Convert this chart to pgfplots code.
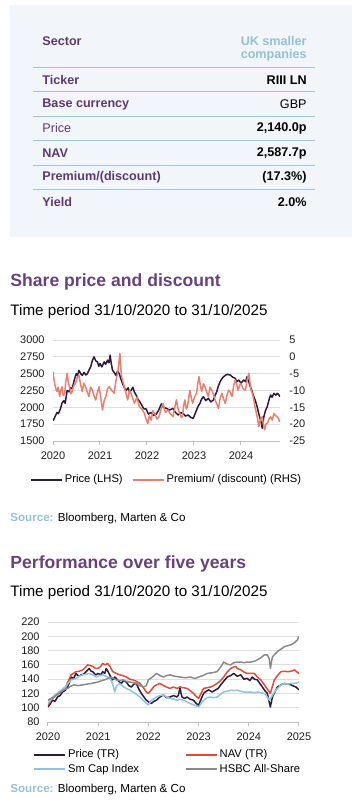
\documentclass[border=0pt]{standalone}
\usepackage{pgfplots}
\pgfplotsset{compat=1.18}
\usepackage{fontspec}
\setmainfont{Liberation Sans}
\definecolor{bgbox}{RGB}{242,246,250}
\definecolor{rule}{RGB}{165,195,212}
\definecolor{lbl}{RGB}{92,58,110}
\definecolor{ttl}{RGB}{104,66,122}
\definecolor{lblue}{RGB}{150,192,212}
\definecolor{cprice}{RGB}{45,26,60}
\definecolor{cprem}{RGB}{232,128,112}
\definecolor{cnav}{RGB}{224,76,58}
\definecolor{csm}{RGB}{140,196,226}
\definecolor{chsbc}{RGB}{138,138,138}
\definecolor{gridc}{RGB}{222,222,222}
\definecolor{axc}{RGB}{190,190,190}
\definecolor{tickc}{RGB}{30,30,30}
\newcommand{\tabfont}{\fontsize{6.3}{7.5}\selectfont}
\newcommand{\tickfont}{\fontsize{5.5}{6.5}\selectfont}
\pgfplotsset{
  base/.style={
    scale only axis, anchor=south west,
    /pgf/number format/assume math mode=true,
    /pgf/number format/1000 sep={},
    tick label style={font=\tickfont, text=tickc},
    tick align=outside, major tick length=2pt,
    xtick style={axc, line width=0.5pt},
    ytick style={draw=none},
    every axis plot/.append style={line width=0.75pt, line join=round},
    legend cell align=left,
    legend image code/.code={\draw[#1, line width=1pt] (0pt,0pt) -- (15.5pt,0pt);},
  },
}
\begin{document}
\begin{tikzpicture}
\begin{scope}[x=0.5pt,y=-0.5pt]
\path[use as bounding box] (0,0) rectangle (352,802);
\coordinate (c1) at (53,441);
\coordinate (c2) at (48,722);
% ---------- table box ----------
\fill[bgbox] (10,5) rectangle (352,237);
\foreach \yy in {68,92,117,141,166,190}{\draw[rule, line width=0.5pt] (33,\yy) -- (315,\yy);}
\begin{scope}[every node/.style={inner sep=0pt, font=\tabfont}]
\node[anchor=west, text=lbl] at (42,41) {\bfseries Sector};
\node[anchor=east, text=lblue] at (307,41) {\bfseries UK smaller};
\node[anchor=east, text=lblue] at (307,55) {\bfseries companies};
\node[anchor=west, text=lbl] at (42,80) {\bfseries Ticker};
\node[anchor=east] at (307,80) {\bfseries RIII LN};
\node[anchor=west, text=lbl] at (42,104) {\bfseries Base currency};
\node[anchor=east] at (307,104) {GBP};
\node[anchor=west, text=lbl] at (42,128) {Price};
\node[anchor=east] at (307,128) {\bfseries 2,140.0p};
\node[anchor=west, text=lbl] at (42,153) {\bfseries NAV};
\node[anchor=east] at (307,153) {\bfseries 2,587.7p};
\node[anchor=west, text=lbl] at (42,177) {\bfseries Premium/(discount)};
\node[anchor=east] at (307,177) {\bfseries (17.3\%)};
\node[anchor=west, text=lbl] at (42,202) {\bfseries Yield};
\node[anchor=east] at (307,202) {\bfseries 2.0\%};
% titles
\node[anchor=west, text=ttl, font=\fontsize{8.8}{10}\selectfont\bfseries] at (10,282) {Share price and discount};
\node[anchor=west, font=\fontsize{7.6}{9}\selectfont] at (10,312) {Time period 31/10/2020 to 31/10/2025};
\node[anchor=west, font=\fontsize{5.8}{7}\selectfont] at (10,518) {\textcolor{lblue}{\bfseries Source:} Bloomberg, Marten \& Co};
\node[anchor=west, text=ttl, font=\fontsize{8.8}{10}\selectfont\bfseries] at (10,564) {Performance over five years};
\node[anchor=west, font=\fontsize{7.6}{9}\selectfont] at (10,593) {Time period 31/10/2020 to 31/10/2025};
\node[anchor=west, font=\fontsize{5.8}{7}\selectfont] at (10,789) {\textcolor{lblue}{\bfseries Source:} Bloomberg, Marten \& Co};
\end{scope}
\end{scope}
% ---------- chart 1: left axis ----------
\begin{axis}[base, at={(c1)}, width=113.5pt, height=50.5pt,
  xmin=2020, xmax=2024.83, ymin=1500, ymax=3000,
  xtick={2020,2021,2022,2023,2024},
  ytick={1500,1750,...,3000},
  axis x line*=bottom, axis y line*=left,
  x axis line style={axc, line width=0.5pt, -},
  y axis line style={draw=none},
  ymajorgrids, grid style={gridc, line width=0.5pt},
  yticklabel style={inner sep=0pt, xshift=-2pt},
  xticklabel style={inner sep=0pt, yshift=-3pt},
]
\addplot[cprice] coordinates {
(2020.000,1800) (2020.030,1840) (2020.055,1880) (2020.086,1925) (2020.115,1905) (2020.157,1975) (2020.190,2060) (2020.229,2100) (2020.260,2060) (2020.301,2250) (2020.340,2230) (2020.375,2290) (2020.408,2275) (2020.450,2400) (2020.494,2500) (2020.520,2470) (2020.551,2550) (2020.590,2500) (2020.623,2475) (2020.660,2520) (2020.700,2480) (2020.730,2500) (2020.770,2560) (2020.801,2600) (2020.840,2700) (2020.873,2750) (2020.910,2690) (2020.945,2675) (2020.975,2610) (2021.002,2650) (2021.040,2600) (2021.088,2675) (2021.120,2640) (2021.159,2700) (2021.190,2660) (2021.216,2775) (2021.240,2650) (2021.267,2550) (2021.300,2520) (2021.338,2475) (2021.375,2540) (2021.410,2500) (2021.445,2420) (2021.481,2350) (2021.515,2300) (2021.553,2250) (2021.600,2290) (2021.630,2220) (2021.660,2250) (2021.700,2300) (2021.732,2225) (2021.770,2180) (2021.803,2125) (2021.840,2090) (2021.875,2050) (2021.930,1980) (2021.982,1975) (2022.030,1900) (2022.089,1925) (2022.140,1880) (2022.197,1900) (2022.250,1960) (2022.304,2050) (2022.350,2000) (2022.411,1985) (2022.480,1960) (2022.555,1985) (2022.600,1930) (2022.662,1886) (2022.720,1920) (2022.769,1910) (2022.820,1870) (2022.877,1886) (2022.930,1850) (2022.984,1836) (2023.020,1900) (2023.055,1960) (2023.090,2020) (2023.127,2060) (2023.160,2120) (2023.199,2158) (2023.250,2100) (2023.306,2134) (2023.360,2080) (2023.413,2109) (2023.450,2180) (2023.485,2233) (2023.520,2320) (2023.556,2381) (2023.590,2420) (2023.628,2455) (2023.700,2490) (2023.771,2480) (2023.820,2450) (2023.878,2430) (2023.910,2380) (2023.950,2406) (2024.000,2360) (2024.057,2406) (2024.100,2380) (2024.129,2455) (2024.165,2380) (2024.200,2307) (2024.240,2230) (2024.272,2158) (2024.310,2090) (2024.343,2010) (2024.380,1900) (2024.415,1812) (2024.440,1750) (2024.451,1688) (2024.470,1780) (2024.487,1861) (2024.520,1950) (2024.558,2010) (2024.600,2120) (2024.630,2183) (2024.660,2150) (2024.701,2208) (2024.740,2180) (2024.773,2208) (2024.800,2190) (2024.830,2158)
};
\end{axis}
% ---------- chart 1: right axis ----------
\begin{axis}[base, at={(c1)}, width=113.5pt, height=50.5pt,
  xmin=2020, xmax=2024.83, ymin=-25, ymax=5,
  ytick={-25,-20,...,5},
  axis x line=none, axis y line*=right,
  y axis line style={draw=none},
  yticklabel style={inner sep=0pt, xshift=2.5pt},
  legend columns=2,
  legend style={at={(0.5,-0.39)}, anchor=center, draw=none, fill=none,
    font=\fontsize{5.6}{6.5}\selectfont, inner sep=0pt,
    /tikz/every even column/.append style={column sep=3.5pt},
    nodes={inner sep=1pt}},
]
\addlegendimage{cprice}
\addlegendentry{Price (LHS)}
\addplot[cprem] coordinates {
(2020.000,-4.4) (2020.018,-6.5) (2020.036,-7.9) (2020.060,-9.5) (2020.086,-10.3) (2020.110,-9.0) (2020.143,-11.8) (2020.165,-10.0) (2020.193,-8.9) (2020.220,-11.5) (2020.250,-10.8) (2020.275,-7.0) (2020.301,-4.9) (2020.325,-7.5) (2020.351,-8.9) (2020.380,-11.0) (2020.408,-10.3) (2020.440,-8.5) (2020.479,-7.9) (2020.515,-6.2) (2020.551,-5.4) (2020.585,-8.0) (2020.623,-10.3) (2020.655,-7.8) (2020.694,-8.9) (2020.730,-10.5) (2020.766,-11.8) (2020.800,-9.0) (2020.837,-9.9) (2020.870,-11.5) (2020.909,-12.8) (2020.945,-10.5) (2020.980,-8.9) (2021.015,-12.0) (2021.052,-15.8) (2021.090,-13.0) (2021.123,-11.8) (2021.160,-9.5) (2021.195,-8.9) (2021.250,-10.0) (2021.302,-10.8) (2021.340,-7.0) (2021.374,-4.9) (2021.400,-2.0) (2021.424,1.0) (2021.440,-3.0) (2021.460,-5.9) (2021.490,-7.5) (2021.517,-8.9) (2021.555,-11.0) (2021.589,-12.8) (2021.625,-10.0) (2021.660,-10.8) (2021.700,-12.5) (2021.732,-13.8) (2021.785,-12.0) (2021.839,-14.8) (2021.890,-15.5) (2021.946,-16.8) (2021.980,-18.5) (2022.018,-19.8) (2022.050,-17.5) (2022.089,-18.8) (2022.125,-16.0) (2022.161,-16.8) (2022.210,-18.5) (2022.254,-17.8) (2022.300,-15.5) (2022.340,-13.8) (2022.390,-16.5) (2022.447,-15.8) (2022.500,-17.0) (2022.555,-17.8) (2022.590,-15.0) (2022.626,-12.8) (2022.660,-15.5) (2022.698,-16.8) (2022.730,-18.0) (2022.755,-17.8) (2022.780,-14.5) (2022.805,-12.8) (2022.835,-15.5) (2022.862,-14.8) (2022.890,-12.0) (2022.912,-9.9) (2022.940,-12.0) (2022.970,-13.8) (2023.010,-12.0) (2023.055,-10.8) (2023.080,-8.0) (2023.106,-5.9) (2023.135,-8.5) (2023.163,-10.3) (2023.200,-8.0) (2023.234,-8.9) (2023.270,-10.5) (2023.306,-11.8) (2023.340,-9.0) (2023.377,-9.9) (2023.410,-11.0) (2023.449,-12.8) (2023.485,-14.0) (2023.521,-15.3) (2023.555,-12.5) (2023.592,-10.8) (2023.630,-12.5) (2023.664,-13.8) (2023.700,-11.5) (2023.735,-9.9) (2023.770,-10.5) (2023.807,-11.8) (2023.845,-8.5) (2023.878,-6.9) (2023.905,-8.0) (2023.936,-9.9) (2023.970,-8.5) (2024.000,-7.9) (2024.045,-9.5) (2024.093,-9.9) (2024.130,-7.0) (2024.165,-4.9) (2024.190,-7.5) (2024.215,-9.9) (2024.245,-11.0) (2024.272,-12.8) (2024.300,-15.0) (2024.329,-16.8) (2024.355,-18.5) (2024.379,-20.7) (2024.415,-18.5) (2024.451,-17.8) (2024.475,-20.0) (2024.501,-21.7) (2024.530,-20.0) (2024.558,-19.8) (2024.595,-18.5) (2024.630,-17.8) (2024.665,-18.8) (2024.701,-16.8) (2024.735,-17.5) (2024.773,-17.8) (2024.800,-18.5) (2024.830,-19.3)
};
\addlegendentry{Premium/ (discount) (RHS)}
\end{axis}
% ---------- chart 2 ----------
\begin{axis}[base, at={(c2)}, width=125.5pt, height=50pt,
  xmin=2020, xmax=2025, ymin=80, ymax=220,
  xtick={2020,2021,2022,2023,2024,2025},
  ytick={80,100,...,220},
  axis x line*=bottom, axis y line*=left,
  x axis line style={axc, line width=0.5pt, -},
  y axis line style={draw=none},
  ymajorgrids, grid style={gridc, line width=0.5pt},
  yticklabel style={inner sep=0pt, xshift=-2pt},
  xticklabel style={inner sep=0pt, yshift=-3pt},
  legend columns=2,
  legend style={at={(-0.06,-0.25)}, anchor=north west, draw=none, fill=none,
    font=\fontsize{5.6}{6.5}\selectfont, inner sep=0pt,
    /tikz/column 2/.style={column sep=22pt},
    nodes={inner sep=0.9pt}},
]
\addplot[cprice] coordinates {
(2020.00,101)(2020.05,106)(2020.09,110.5)(2020.14,109)(2020.19,115)(2020.24,117)(2020.29,122)(2020.34,124)(2020.39,129)(2020.43,136)(2020.46,143)(2020.51,141)(2020.56,148)(2020.61,144)(2020.66,146)(2020.71,147)(2020.76,150.5)(2020.82,155)(2020.86,151)(2020.89,150.5)(2020.95,146)(2021.00,148)(2021.05,146)(2021.09,150.5)(2021.13,148)(2021.16,155)(2021.20,150)(2021.23,146)(2021.26,142)(2021.29,139)(2021.33,143)(2021.36,141)(2021.41,137)(2021.46,134)(2021.51,138)(2021.56,136)(2021.61,131)(2021.66,129)(2021.71,133)(2021.76,134)(2021.81,126)(2021.86,120)(2021.91,115)(2021.96,110.5)(2022.01,108)(2022.06,106)(2022.11,109)(2022.16,110.5)(2022.23,115)(2022.30,118)(2022.36,114)(2022.43,115)(2022.50,117)(2022.57,115)(2022.60,118)(2022.63,129)(2022.65,120)(2022.67,115)(2022.72,113)(2022.77,115)(2022.83,112)(2022.90,110.5)(2022.95,106)(2023.00,103.5)(2023.05,112)(2023.10,120)(2023.15,123)(2023.20,125)(2023.27,122)(2023.34,125)(2023.39,127)(2023.44,132)(2023.50,137)(2023.57,143)(2023.64,145)(2023.70,148)(2023.77,144)(2023.84,146)(2023.90,140)(2023.97,141)(2024.02,138)(2024.07,143)(2024.11,140)(2024.17,139)(2024.22,134)(2024.27,129)(2024.32,124)(2024.37,120)(2024.40,110)(2024.43,101)(2024.45,108)(2024.47,115)(2024.52,122)(2024.57,129)(2024.64,132)(2024.71,134)(2024.78,133)(2024.84,132)(2024.90,130)(2024.94,129)(2024.97,127)(2025.00,125)
};
\addlegendentry{Price (TR)}
\addplot[cnav] coordinates {
(2020.00,103.5)(2020.09,113)(2020.16,117)(2020.22,120)(2020.29,125)(2020.35,129)(2020.41,138)(2020.46,146)(2020.56,150.5)(2020.62,151)(2020.69,153)(2020.74,156)(2020.79,160)(2020.84,159)(2020.89,158)(2020.95,155)(2021.00,155)(2021.05,158)(2021.09,162)(2021.14,160)(2021.19,162)(2021.24,157)(2021.29,150.5)(2021.36,148)(2021.43,146)(2021.49,145)(2021.56,143)(2021.63,140)(2021.69,139)(2021.76,137)(2021.83,134)(2021.90,128)(2021.96,122)(2022.00,120)(2022.06,125)(2022.10,129)(2022.16,132)(2022.23,134)(2022.30,131)(2022.36,129)(2022.43,127)(2022.50,129)(2022.57,127)(2022.63,129)(2022.70,128)(2022.77,127)(2022.83,124)(2022.90,120)(2022.95,116)(2023.00,113)(2023.05,120)(2023.10,127)(2023.17,128)(2023.24,129)(2023.30,131)(2023.37,134)(2023.44,138)(2023.50,143)(2023.57,150)(2023.64,155)(2023.70,157)(2023.74,158)(2023.77,155)(2023.84,153)(2023.90,150)(2023.97,148)(2024.04,148)(2024.11,148)(2024.17,143)(2024.24,139)(2024.29,134)(2024.34,129)(2024.39,124)(2024.43,120)(2024.47,130)(2024.51,139)(2024.57,145)(2024.64,150.5)(2024.71,151)(2024.78,150.5)(2024.84,151)(2024.91,153)(2024.96,150)(2025.00,148)
};
\addlegendentry{NAV (TR)}
\addplot[csm] coordinates {
(2020.00,106)(2020.09,115)(2020.16,119)(2020.22,122)(2020.29,126)(2020.35,129)(2020.41,135)(2020.46,139)(2020.56,141)(2020.62,144)(2020.69,146)(2020.76,147)(2020.82,148)(2020.89,146)(2020.96,143)(2021.03,145)(2021.09,146)(2021.16,144)(2021.23,141)(2021.28,135)(2021.33,122)(2021.36,130)(2021.43,134)(2021.49,130)(2021.56,127)(2021.63,125)(2021.69,122)(2021.76,119)(2021.83,115)(2021.90,110)(2021.96,106)(2022.00,104)(2022.06,110.5)(2022.16,115)(2022.23,117)(2022.30,118)(2022.36,115)(2022.43,113)(2022.50,112)(2022.57,110.5)(2022.63,112)(2022.70,110.5)(2022.77,108)(2022.83,106)(2022.90,104)(2023.00,101)(2023.05,106)(2023.10,110.5)(2023.17,114)(2023.24,115)(2023.30,114)(2023.37,115)(2023.44,119)(2023.50,122)(2023.57,123)(2023.64,124.5)(2023.70,124)(2023.77,124.5)(2023.84,123)(2023.90,122)(2023.97,122)(2024.04,122)(2024.11,121)(2024.17,122)(2024.24,121)(2024.31,120)(2024.36,116)(2024.41,110.5)(2024.46,116)(2024.51,122)(2024.57,127)(2024.64,132)(2024.71,134)(2024.78,133)(2024.84,134)(2024.91,134)(2024.96,135)(2025.00,136)
};
\addlegendentry{Sm Cap Index}
\addplot[chsbc] coordinates {
(2020.00,110.5)(2020.06,113)(2020.12,115)(2020.19,119)(2020.25,122)(2020.32,125)(2020.39,127)(2020.45,130)(2020.52,132)(2020.60,131)(2020.69,132)(2020.77,133)(2020.86,134)(2020.93,135)(2021.00,136)(2021.07,138)(2021.13,139)(2021.19,141)(2021.23,143)(2021.30,141)(2021.36,139)(2021.43,138)(2021.49,139)(2021.56,137)(2021.63,136)(2021.70,135)(2021.76,134)(2021.83,131)(2021.90,129)(2021.96,131)(2022.00,139)(2022.08,143)(2022.16,148)(2022.23,145)(2022.30,143)(2022.36,145)(2022.43,146)(2022.53,144)(2022.63,143)(2022.73,142)(2022.83,143)(2022.93,141)(2023.00,143)(2023.09,145)(2023.17,148)(2023.27,149)(2023.37,150.5)(2023.44,157)(2023.50,164)(2023.57,161)(2023.64,160)(2023.70,163)(2023.77,164)(2023.84,164)(2023.90,163)(2023.97,164)(2024.04,164)(2024.11,165)(2024.17,167)(2024.24,170)(2024.31,174)(2024.37,174)(2024.41,168)(2024.43,155)(2024.47,171)(2024.52,175)(2024.57,178.5)(2024.64,182)(2024.71,185.5)(2024.78,187)(2024.84,188)(2024.91,191)(2024.94,193)(2024.97,195)(2025.00,200)
};
\addlegendentry{HSBC All-Share}
\end{axis}
\end{tikzpicture}
\end{document}
